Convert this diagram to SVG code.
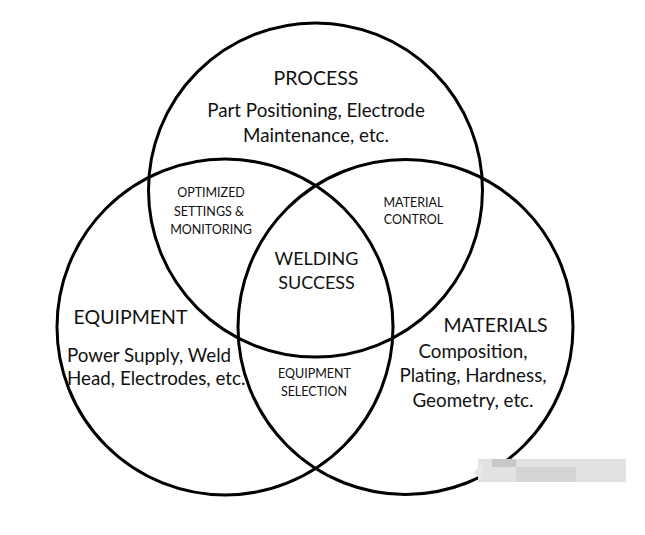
<svg xmlns="http://www.w3.org/2000/svg" width="645" height="535" viewBox="0 0 645 535">
<style>
.c{fill:none;stroke:#000;stroke-width:3}
text{font-family:Lato,"Open Sans","Liberation Sans",sans-serif;fill:#111;text-anchor:middle}
.big{font-size:19.5px}
.mid{font-size:18px}
.body{font-size:18.8px}
.sm{font-size:12.5px}
</style>
<rect width="645" height="535" fill="#fff"/>
<g id="process"><circle class="c" cx="315.5" cy="190" r="167"/>
<text class="big" x="316" y="85">PROCESS</text>
<text class="body" x="316" y="117">Part Positioning, Electrode</text>
<text class="body" x="316" y="142">Maintenance, etc.</text></g>
<g id="equipment"><circle class="c" cx="225" cy="327" r="168"/>
<text class="big" x="130.5" y="324">EQUIPMENT</text>
<text class="body" x="67" y="362" style="text-anchor:start">Power Supply, Weld</text>
<text class="body" x="67" y="385" style="text-anchor:start">Head, Electrodes, etc.</text></g>
<g id="materials"><circle class="c" cx="405.5" cy="327" r="167.5"/>
<text class="big" x="495.5" y="332">MATERIALS</text>
<text class="body" x="473" y="358">Composition,</text>
<text class="body" x="473" y="382">Plating, Hardness,</text>
<text class="body" x="473" y="407">Geometry, etc.</text></g>
<g id="optimized"><text class="sm" x="211" y="197">OPTIMIZED</text>
<text class="sm" x="209" y="216">SETTINGS &amp;</text>
<text class="sm" x="211" y="234">MONITORING</text></g>
<g id="material-control"><text class="sm" x="413.5" y="207">MATERIAL</text>
<text class="sm" x="413.5" y="224">CONTROL</text></g>
<g id="welding-success"><text class="mid" x="316.5" y="265">WELDING</text>
<text class="mid" x="316.5" y="289">SUCCESS</text></g>
<g id="equipment-selection"><text class="sm" x="314.5" y="378">EQUIPMENT</text>
<text class="sm" x="314" y="396">SELECTION</text></g>
<g id="connectors"></g>
<g id="watermark"><rect x="478" y="459" width="148" height="23" fill="#e2e2e2"/>
<rect x="492" y="459" width="24" height="8" fill="#c8c8c8"/>
<rect x="516" y="467" width="60" height="15" fill="#d4d4d4"/>
<polygon points="473,473 483,463 483,480" fill="#e8e8e8"/></g>
</svg>
